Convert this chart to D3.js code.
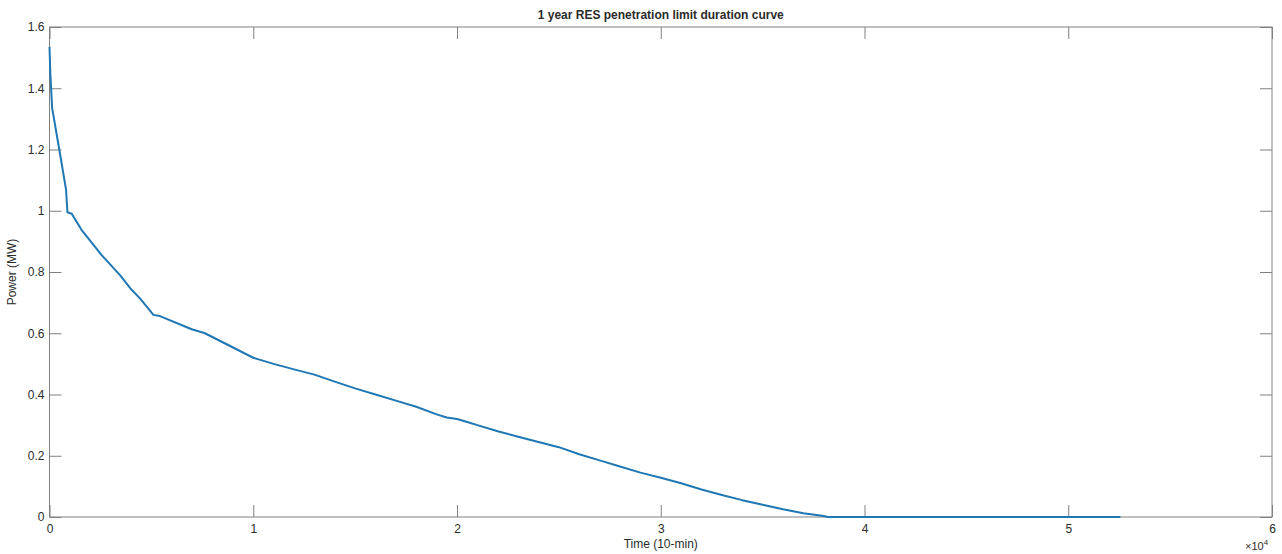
<!DOCTYPE html>
<html>
<head>
<meta charset="utf-8">
<script src="https://cdn.jsdelivr.net/npm/d3@7"></script>
<style>
  body { margin: 0; background: #fff; }
  text { font-family: "Liberation Sans", Arial, sans-serif; fill: #2b2b2b; }
</style>
</head>
<body>
<div id="chart"></div>
<script>
// duration curve breakpoints
var timeSteps = [0, 40, 130, 480, 810, 880, 1090, 1600, 2560, 3460, 4030, 4440, 5100, 5420,
  6980, 7630, 10000, 11000, 12000, 13000, 14000, 15000, 16000, 17000, 18000, 19000, 19500,
  20000, 20500, 21000, 22000, 23000, 24000, 25000, 26000, 27000, 28000, 29000, 30000, 31000,
  32000, 33000, 34000, 35000, 36000, 37000, 38000, 38200, 52560];
var powerMW = [1.535, 1.45, 1.335, 1.20, 1.07, 0.995, 0.99, 0.935, 0.855, 0.79, 0.742, 0.714, 0.66, 0.656,
  0.613, 0.60, 0.52, 0.50, 0.482, 0.465, 0.442, 0.42, 0.40, 0.38, 0.36, 0.335, 0.325,
  0.32, 0.31, 0.30, 0.28, 0.262, 0.245, 0.228, 0.205, 0.185, 0.165, 0.145, 0.128, 0.11,
  0.09, 0.072, 0.055, 0.04, 0.025, 0.012, 0.003, 0, 0];
var xTicks = [0, 10000, 20000, 30000, 40000, 50000, 60000];
var yTicks = [0, 0.2, 0.4, 0.6, 0.8, 1, 1.2, 1.4, 1.6];

var width = 1282, height = 554;
var margin = {top: 27, right: 10, bottom: 37, left: 49.5};
var chartW = width - margin.left - margin.right,   // to 1272
    chartH = height - margin.top - margin.bottom;  // to 517

var svg = d3.select('#chart').append('svg')
    .attr('width', width)
    .attr('height', height);

var x = d3.scaleLinear().domain([0, 60000]).range([0, chartW]);
var y = d3.scaleLinear().domain([0, 1.6]).range([chartH, 0]);

var g = svg.append('g')
    .attr('transform', 'translate(' + margin.left + ',' + margin.top + ')');

var axisColor = '#808080';

// ticks on all four sides, pointing inward
g.append('g').attr('transform', 'translate(0,' + chartH + ')')
    .call(d3.axisBottom(x).tickValues(xTicks).tickSizeInner(-12).tickSizeOuter(0)
      .tickFormat(function(d) { return d / 10000; }))
    .call(function(s) {
      s.select('.domain').remove();
      s.selectAll('.tick line').attr('stroke', axisColor);
      s.selectAll('.tick text').attr('y', 7).attr('dy', '0.71em')
        .style('font-size', '12px').attr('fill', '#2b2b2b');
    });

g.append('g')
    .call(d3.axisTop(x).tickValues(xTicks).tickSizeInner(-12).tickSizeOuter(0).tickFormat(''))
    .call(function(s) {
      s.select('.domain').remove();
      s.selectAll('.tick line').attr('stroke', axisColor);
    });

g.append('g')
    .call(d3.axisLeft(y).tickValues(yTicks).tickSizeInner(-12).tickSizeOuter(0)
      .tickFormat(function(d) { return d3.format('~g')(d); }))
    .call(function(s) {
      s.select('.domain').remove();
      s.selectAll('.tick line').attr('stroke', axisColor);
      s.selectAll('.tick text').attr('x', -5)
        .style('font-size', '12px').attr('fill', '#2b2b2b');
    });

g.append('g').attr('transform', 'translate(' + chartW + ',0)')
    .call(d3.axisRight(y).tickValues(yTicks).tickSizeInner(-12).tickSizeOuter(0).tickFormat(''))
    .call(function(s) {
      s.select('.domain').remove();
      s.selectAll('.tick line').attr('stroke', axisColor);
    });

// box
g.append('rect')
    .attr('width', chartW).attr('height', chartH)
    .attr('fill', 'none').attr('stroke', axisColor).attr('stroke-width', 1);

var line = d3.line()
    .x(function(d, i) { return x(timeSteps[i]); })
    .y(function(d) { return y(d); });

g.append('path')
    .datum(powerMW)
    .attr('d', line)
    .attr('fill', 'none')
    .attr('stroke', '#1f77b4')
    .attr('stroke-width', 2)
    .attr('stroke-linejoin', 'round');

// title and labels
svg.append('text')
    .attr('x', margin.left + chartW / 2).attr('y', 19)
    .attr('text-anchor', 'middle')
    .style('font-size', '12px').style('font-weight', 'bold')
    .text('1 year RES penetration limit duration curve');

svg.append('text')
    .attr('x', margin.left + chartW / 2).attr('y', 548)
    .attr('text-anchor', 'middle')
    .style('font-size', '12px')
    .text('Time (10-min)');

svg.append('text')
    .attr('transform', 'translate(16,' + (margin.top + chartH / 2) + ') rotate(-90)')
    .attr('text-anchor', 'middle')
    .style('font-size', '12px')
    .text('Power (MW)');

var expo = svg.append('text')
    .attr('x', 1245).attr('y', 550)
    .style('font-size', '11px');
expo.append('tspan').text('\u00d710');
expo.append('tspan').attr('dy', -5).style('font-size', '8px').text('4');
</script>
</body>
</html>
